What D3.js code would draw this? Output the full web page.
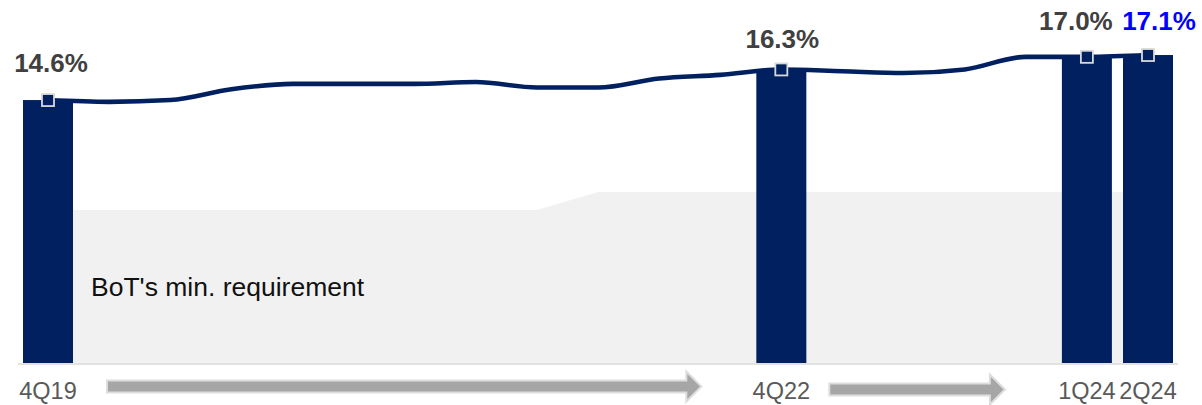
<!DOCTYPE html>
<html>
<head>
<meta charset="utf-8">
<script src="https://cdn.jsdelivr.net/npm/d3@7"></script>
<style>
  html, body { margin: 0; padding: 0; background: #ffffff; }
  svg { display: block; font-family: Arial, "Liberation Sans", sans-serif; }
</style>
</head>
<body>
<svg id="chart" width="1202" height="405"></svg>
<script>
// Quarterly Tier 1 ratio (%) and the regulatory minimum
const quarters = ["4Q19", "1Q20", "2Q20", "3Q20", "4Q20", "1Q21", "2Q21", "3Q21", "4Q21", "1Q22",
                  "2Q22", "3Q22", "4Q22", "1Q23", "2Q23", "3Q23", "4Q23", "1Q24", "2Q24"];
const ratioValues = [14.6, 14.5, 14.6, 15.2, 15.5, 15.5, 15.5, 15.6, 15.3, 15.3,
                     15.8, 16.0, 16.3, 16.2, 16.1, 16.3, 17.0, 17.0, 17.1];
const minRequirement = [8.5, 8.5, 8.5, 8.5, 8.5, 8.5, 8.5, 8.5, 8.5, 9.5,
                        9.5, 9.5, 9.5, 9.5, 9.5, 9.5, 9.5, 9.5, 9.5];

// Highlighted quarters shown as bars, with their labels
const barQuarters = ["4Q19", "4Q22", "1Q24", "2Q24"];
const barValues = [14.6, 16.3, 17.0, 17.1];
const tickLabels = ["4Q19", "4Q22", "1Q24", "2Q24"];
const areaLabel = "BoT's min. requirement";

const svg = d3.select("#chart");
const navy = "#002060";
const baseY = 363;

const x = d3.scalePoint().domain(quarters).range([48, 1148]);
const y = d3.scaleLinear().domain([0, 20]).range([baseY, baseY - 20 * 18.01]);

// Minimum requirement band
const area = d3.area()
  .x((d, i) => x(quarters[i]))
  .y0(y(0))
  .y1(d => y(d));
svg.append("path")
  .datum(minRequirement)
  .attr("d", area)
  .attr("fill", "#f1f1f1");

svg.append("text")
  .attr("x", 91)
  .attr("y", 296)
  .attr("font-size", 26.5)
  .attr("fill", "#111111")
  .text(areaLabel);

// Baseline
svg.append("line")
  .attr("x1", 18).attr("x2", 1178)
  .attr("y1", baseY + 1).attr("y2", baseY + 1)
  .attr("stroke", "#d9d9d9")
  .attr("stroke-width", 1.6);

// Bars
const barW = 50;
svg.append("g").selectAll("rect")
  .data(barQuarters)
  .join("rect")
  .attr("x", d => x(d) - barW / 2)
  .attr("width", barW)
  .attr("y", (d, i) => y(barValues[i]))
  .attr("height", (d, i) => y(0) - y(barValues[i]))
  .attr("fill", navy);

// Ratio line
const line = d3.line()
  .x((d, i) => x(quarters[i]))
  .y(d => y(d))
  .curve(d3.curveMonotoneX);
svg.append("path")
  .datum(ratioValues)
  .attr("d", line)
  .attr("fill", "none")
  .attr("stroke", navy)
  .attr("stroke-width", 4.6);

// Square markers on highlighted quarters
const m = 12;
svg.append("g").selectAll("rect")
  .data(barQuarters)
  .join("rect")
  .attr("x", d => x(d) - m / 2)
  .attr("y", d => y(ratioValues[quarters.indexOf(d)]) - m / 2)
  .attr("width", m)
  .attr("height", m)
  .attr("fill", navy)
  .attr("stroke", "#d9d9d9")
  .attr("stroke-width", 1.8);

// Value labels (offsets keep the two right-hand labels apart)
const labelOffset = [
  { dx: 3, dy: -28, color: "#404040" },
  { dx: 1, dy: -21, color: "#404040" },
  { dx: -11, dy: -27, color: "#404040" },
  { dx: 11, dy: -25, color: "#0000ff" }
];
svg.append("g").selectAll("text")
  .data(barValues)
  .join("text")
  .attr("x", (d, i) => x(barQuarters[i]) + labelOffset[i].dx)
  .attr("y", (d, i) => y(d) + labelOffset[i].dy)
  .attr("text-anchor", "middle")
  .attr("font-size", 26)
  .attr("font-weight", "bold")
  .attr("fill", (d, i) => labelOffset[i].color)
  .text(d => d.toFixed(1) + "%");

// Category labels
svg.append("g").selectAll("text")
  .data(tickLabels)
  .join("text")
  .attr("x", d => x(d))
  .attr("y", 399)
  .attr("text-anchor", "middle")
  .attr("font-size", 23.5)
  .attr("fill", "#595959")
  .text(d => d);

// Progress arrows between highlighted quarters
function arrow(x0, x1, cy) {
  const sh = 6, hh = 15, hl = 15;
  const pts = [
    [x0, cy - sh], [x1 - hl, cy - sh], [x1 - hl, cy - hh], [x1, cy],
    [x1 - hl, cy + hh], [x1 - hl, cy + sh], [x0, cy + sh]
  ];
  svg.append("path")
    .attr("d", "M" + pts.map(p => p.join(",")).join("L") + "Z")
    .attr("fill", "#a6a6a6")
    .attr("stroke", "#dddddd")
    .attr("stroke-width", 2)
    .attr("stroke-linejoin", "miter");
}
arrow(x("4Q19") + 59, x("4Q22") - 80, 386.5);
arrow(x("4Q22") + 48, x("1Q24") - 82, 389.5);
</script>
</body>
</html>
